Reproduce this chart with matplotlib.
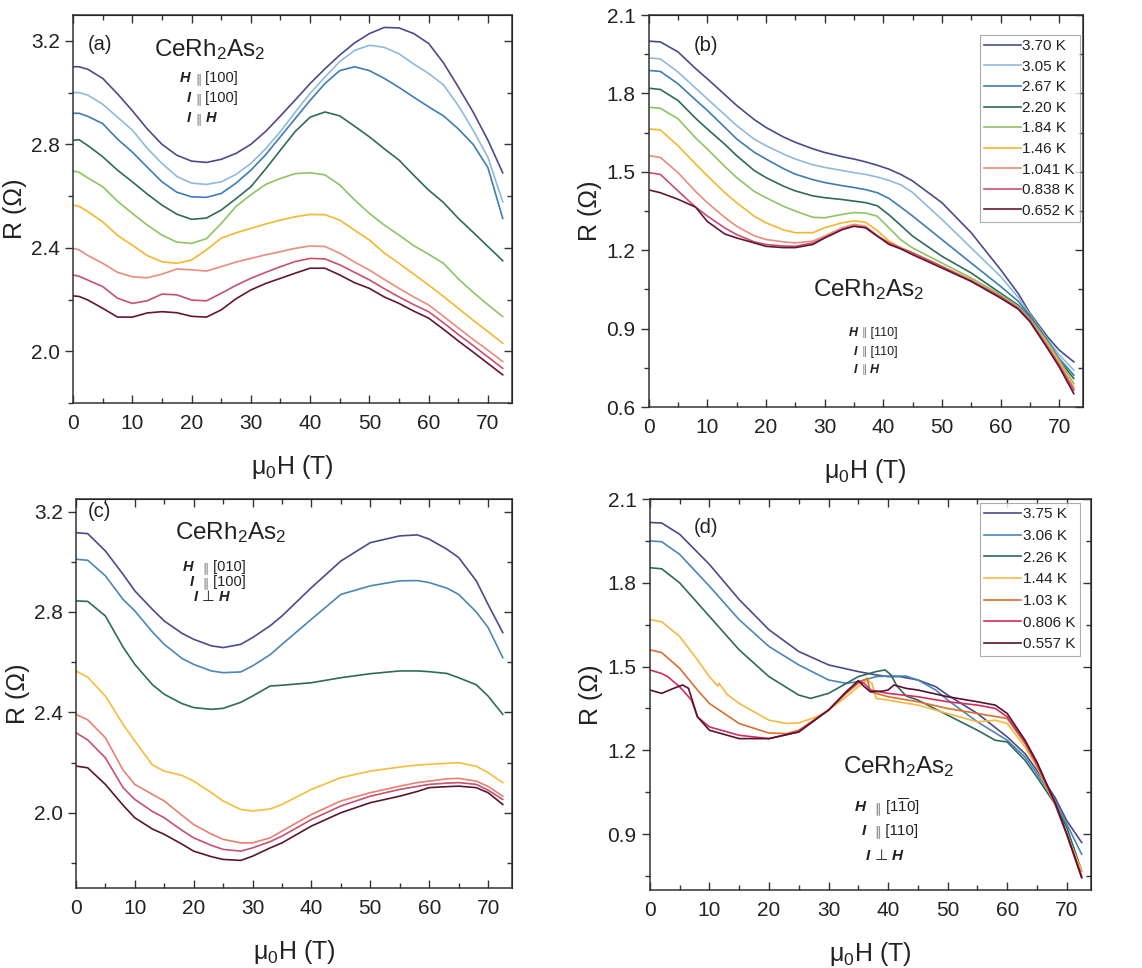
import matplotlib
matplotlib.use("Agg")
import matplotlib.pyplot as plt
from matplotlib.ticker import MultipleLocator
from matplotlib.offsetbox import TextArea, HPacker, AnchoredOffsetbox

plt.rcParams['font.family'] = ['Liberation Sans', 'DejaVu Sans']
plt.rcParams['mathtext.fontset'] = 'custom'
plt.rcParams['mathtext.rm'] = 'Liberation Sans'
plt.rcParams['mathtext.it'] = 'Liberation Sans:italic'
plt.rcParams['mathtext.bf'] = 'Liberation Sans:bold'

# ---------------- Panel (a): H || [100], I || [100] ----------------
a_labels = ['3.70 K', '3.05 K', '2.67 K', '2.20 K', '1.84 K', '1.46 K', '1.041 K', '0.838 K', '0.652 K']
a_H = [0, 1, 2.5, 5, 7.5, 10, 12.5, 15, 17.5, 20, 22.5, 25, 27.5, 30, 32.5, 35, 37.5, 40,
       42.5, 45, 47.5, 50, 52.5, 55, 57.5, 60, 62.5, 65, 67.5, 70, 72.5]
a_R_370 = [3.100, 3.100, 3.090, 3.055, 2.995, 2.930, 2.860, 2.800, 2.758, 2.735, 2.730,
           2.742, 2.765, 2.800, 2.850, 2.910, 2.972, 3.035, 3.092, 3.145, 3.192, 3.228,
           3.252, 3.250, 3.228, 3.190, 3.115, 3.022, 2.925, 2.816, 2.690]
a_R_305 = [3.000, 3.000, 2.990, 2.955, 2.905, 2.855, 2.785, 2.726, 2.676, 2.650, 2.645,
           2.655, 2.684, 2.726, 2.783, 2.850, 2.925, 2.997, 3.060, 3.120, 3.163, 3.183,
           3.175, 3.150, 3.110, 3.074, 3.030, 2.950, 2.855, 2.750, 2.578]
a_R_267 = [2.920, 2.920, 2.908, 2.880, 2.820, 2.770, 2.712, 2.655, 2.615, 2.597, 2.595,
           2.610, 2.650, 2.700, 2.760, 2.830, 2.900, 2.970, 3.035, 3.085, 3.100, 3.085,
           3.055, 3.020, 2.982, 2.945, 2.910, 2.860, 2.800, 2.710, 2.514]
a_R_220 = [2.815, 2.818, 2.795, 2.752, 2.700, 2.655, 2.608, 2.565, 2.530, 2.510, 2.515,
           2.546, 2.590, 2.636, 2.705, 2.778, 2.850, 2.905, 2.925, 2.910, 2.870, 2.829,
           2.783, 2.739, 2.680, 2.623, 2.575, 2.514, 2.460, 2.405, 2.350]
a_R_184 = [2.697, 2.692, 2.670, 2.636, 2.580, 2.533, 2.488, 2.449, 2.422, 2.417, 2.435,
           2.494, 2.560, 2.605, 2.645, 2.668, 2.687, 2.690, 2.682, 2.643, 2.585, 2.533,
           2.488, 2.449, 2.408, 2.375, 2.340, 2.280, 2.228, 2.180, 2.134]
a_R_146 = [2.565, 2.560, 2.540, 2.500, 2.448, 2.410, 2.370, 2.346, 2.340, 2.353, 2.392,
           2.437, 2.458, 2.475, 2.492, 2.507, 2.520, 2.529, 2.528, 2.507, 2.468, 2.430,
           2.380, 2.340, 2.298, 2.256, 2.212, 2.166, 2.120, 2.076, 2.031]
a_R_1041 = [2.398, 2.392, 2.370, 2.340, 2.305, 2.288, 2.284, 2.298, 2.318, 2.315, 2.310,
            2.327, 2.345, 2.359, 2.373, 2.385, 2.398, 2.407, 2.405, 2.379, 2.345, 2.314,
            2.278, 2.243, 2.210, 2.179, 2.135, 2.090, 2.046, 2.004, 1.960]
a_R_0838 = [2.295, 2.290, 2.275, 2.250, 2.205, 2.185, 2.195, 2.221, 2.218, 2.198, 2.195,
            2.224, 2.255, 2.282, 2.305, 2.327, 2.347, 2.359, 2.357, 2.334, 2.305, 2.276,
            2.242, 2.210, 2.180, 2.153, 2.110, 2.065, 2.022, 1.978, 1.934]
a_R_0652 = [2.214, 2.212, 2.198, 2.166, 2.132, 2.132, 2.148, 2.153, 2.149, 2.135, 2.132,
            2.160, 2.203, 2.237, 2.262, 2.282, 2.302, 2.321, 2.321, 2.295, 2.265, 2.243,
            2.210, 2.185, 2.155, 2.128, 2.085, 2.040, 1.997, 1.953, 1.909]

# ---------------- Panel (b): H || [110], I || [110] ----------------
b_labels = ['3.70 K', '3.05 K', '2.67 K', '2.20 K', '1.84 K', '1.46 K', '1.041 K', '0.838 K', '0.652 K']
b_H = [0, 2, 5, 8, 10, 13, 15, 18, 20, 23, 25, 28, 30, 33, 35, 37, 39, 41, 43, 45,
       50, 55, 60, 63, 65, 68, 70, 72.5]
b_R_370 = [2.000, 1.997, 1.959, 1.895, 1.856, 1.795, 1.754, 1.700, 1.670, 1.633, 1.613,
           1.588, 1.574, 1.558, 1.549, 1.538, 1.525, 1.510, 1.490, 1.465, 1.382, 1.267,
           1.126, 1.035, 0.960, 0.869, 0.818, 0.773]
b_R_305 = [1.936, 1.932, 1.882, 1.820, 1.779, 1.718, 1.677, 1.625, 1.600, 1.568, 1.549,
           1.527, 1.517, 1.505, 1.497, 1.490, 1.480, 1.467, 1.450, 1.421, 1.318, 1.209,
           1.100, 1.020, 0.955, 0.860, 0.800, 0.741]
b_R_267 = [1.888, 1.884, 1.837, 1.775, 1.735, 1.670, 1.626, 1.575, 1.549, 1.512, 1.491,
           1.470, 1.459, 1.447, 1.440, 1.432, 1.420, 1.398, 1.365, 1.331, 1.241, 1.151,
           1.062, 1.005, 0.950, 0.855, 0.786, 0.722]
b_R_220 = [1.820, 1.815, 1.773, 1.705, 1.664, 1.605, 1.562, 1.505, 1.478, 1.445, 1.427,
           1.408, 1.401, 1.394, 1.388, 1.382, 1.370, 1.335, 1.295, 1.254, 1.177, 1.113,
           1.036, 0.990, 0.945, 0.850, 0.779, 0.709]
b_R_184 = [1.747, 1.743, 1.703, 1.630, 1.587, 1.520, 1.478, 1.425, 1.401, 1.368, 1.350,
           1.326, 1.324, 1.337, 1.344, 1.342, 1.330, 1.285, 1.240, 1.209, 1.151, 1.094,
           1.030, 0.985, 0.940, 0.850, 0.779, 0.690]
b_R_146 = [1.664, 1.660, 1.600, 1.530, 1.485, 1.420, 1.382, 1.330, 1.305, 1.278, 1.267,
           1.267, 1.286, 1.305, 1.312, 1.307, 1.275, 1.235, 1.210, 1.190, 1.138, 1.087,
           1.023, 0.980, 0.933, 0.840, 0.773, 0.677]
b_R_1041 = [1.562, 1.555, 1.497, 1.425, 1.382, 1.325, 1.292, 1.255, 1.241, 1.232, 1.228,
            1.235, 1.254, 1.286, 1.299, 1.292, 1.256, 1.228, 1.208, 1.190, 1.138, 1.087,
            1.023, 0.980, 0.933, 0.835, 0.767, 0.671]
b_R_0838 = [1.497, 1.490, 1.427, 1.365, 1.331, 1.285, 1.260, 1.232, 1.222, 1.216, 1.215,
            1.228, 1.247, 1.279, 1.292, 1.286, 1.254, 1.228, 1.208, 1.190, 1.138, 1.081,
            1.023, 0.978, 0.933, 0.830, 0.760, 0.664]
b_R_0652 = [1.431, 1.420, 1.395, 1.365, 1.310, 1.262, 1.247, 1.228, 1.215, 1.210, 1.210,
            1.222, 1.247, 1.279, 1.292, 1.286, 1.254, 1.222, 1.205, 1.183, 1.132, 1.081,
            1.017, 0.975, 0.927, 0.825, 0.754, 0.651]

# ---------------- Panel (c): H || [010], I || [100] ----------------
c_H = [0, 2, 5, 8, 10, 13, 15, 18, 20, 23, 25, 28, 30, 33, 35, 40, 45, 50, 55, 58,
       60, 63, 65, 68, 70, 72.5]
c_R_1 = [3.116, 3.112, 3.043, 2.950, 2.884, 2.810, 2.764, 2.715, 2.691, 2.665, 2.658,
         2.671, 2.698, 2.745, 2.784, 2.897, 3.003, 3.076, 3.103, 3.107, 3.090, 3.050,
         3.017, 2.924, 2.830, 2.718]
c_R_2 = [3.010, 3.006, 2.944, 2.850, 2.804, 2.720, 2.671, 2.615, 2.591, 2.565, 2.558,
         2.561, 2.585, 2.630, 2.671, 2.771, 2.870, 2.904, 2.924, 2.925, 2.917, 2.895,
         2.870, 2.800, 2.738, 2.618]
c_R_3 = [2.844, 2.842, 2.784, 2.660, 2.591, 2.510, 2.472, 2.435, 2.419, 2.412, 2.416,
         2.440, 2.465, 2.505, 2.508, 2.518, 2.538, 2.554, 2.565, 2.565, 2.562, 2.555,
         2.538, 2.510, 2.465, 2.392]
c_R_4 = [2.565, 2.540, 2.465, 2.352, 2.286, 2.190, 2.166, 2.149, 2.126, 2.080, 2.047,
         2.013, 2.007, 2.015, 2.033, 2.093, 2.140, 2.166, 2.182, 2.190, 2.193, 2.197,
         2.199, 2.185, 2.160, 2.120]
c_R_5 = [2.392, 2.370, 2.299, 2.170, 2.113, 2.073, 2.047, 1.990, 1.953, 1.915, 1.894,
         1.880, 1.880, 1.900, 1.927, 1.993, 2.047, 2.080, 2.106, 2.120, 2.126, 2.135,
         2.137, 2.126, 2.105, 2.066]
c_R_6 = [2.319, 2.290, 2.219, 2.100, 2.053, 2.005, 1.980, 1.930, 1.900, 1.870, 1.854,
         1.847, 1.860, 1.885, 1.907, 1.973, 2.027, 2.066, 2.093, 2.105, 2.113, 2.118,
         2.120, 2.113, 2.090, 2.053]
c_R_7 = [2.186, 2.179, 2.113, 2.030, 1.980, 1.935, 1.914, 1.875, 1.847, 1.825, 1.814,
         1.810, 1.827, 1.860, 1.880, 1.947, 2.000, 2.040, 2.066, 2.085, 2.100, 2.104,
         2.106, 2.100, 2.080, 2.033]

# ---------------- Panel (d): H || [1-10], I || [110] ----------------
d_labels = ['3.75 K', '3.06 K', '2.26 K', '1.44 K', '1.03 K', '0.806 K', '0.557 K']
d_H_375 = [0, 2, 5, 10, 15, 20, 25, 30, 35, 38, 40, 42, 45, 48, 50, 55, 60, 63, 65, 68, 70, 72.5]
d_R_375 = [2.016, 2.014, 1.974, 1.866, 1.740, 1.632, 1.554, 1.506, 1.482, 1.470, 1.464,
           1.464, 1.452, 1.428, 1.398, 1.332, 1.248, 1.188, 1.128, 1.032, 0.948, 0.870]
d_H_306 = [0, 2, 5, 10, 15, 20, 25, 30, 33, 35, 38, 40, 43, 45, 48, 50, 55, 60, 63, 65, 68, 70, 72.5]
d_R_306 = [1.950, 1.947, 1.902, 1.788, 1.668, 1.572, 1.506, 1.452, 1.440, 1.446, 1.464,
           1.466, 1.466, 1.452, 1.416, 1.380, 1.302, 1.236, 1.176, 1.116, 1.020, 0.936, 0.828]
d_H_226 = [0, 2, 5, 10, 15, 20, 25, 27, 30, 33, 35, 38, 39.5, 40.5, 41.5, 43, 45, 50, 55,
           58, 60, 63, 65, 68, 70, 72.5]
d_R_226 = [1.854, 1.850, 1.800, 1.680, 1.560, 1.464, 1.398, 1.386, 1.404, 1.440, 1.464,
           1.482, 1.488, 1.470, 1.430, 1.395, 1.380, 1.326, 1.272, 1.236, 1.230, 1.164,
           1.104, 1.008, 0.924, 0.768]
d_H_144 = [0, 2, 5, 8, 10, 11.4, 11.6, 13, 15, 20, 23, 25, 28, 30, 33, 35, 36.5, 37.3, 38,
           40, 45, 50, 55, 58, 60, 63, 65, 68, 70, 72.5]
d_R_144 = [1.668, 1.660, 1.608, 1.524, 1.464, 1.430, 1.440, 1.400, 1.368, 1.308, 1.296,
           1.298, 1.320, 1.344, 1.392, 1.428, 1.452, 1.440, 1.386, 1.380, 1.362, 1.332,
           1.302, 1.308, 1.296, 1.212, 1.140, 1.008, 0.900, 0.768]
d_H_103 = [0, 2, 5, 8, 10, 15, 20, 23, 25, 30, 33, 35, 36.5, 37, 40, 45, 50, 55, 60, 63,
           65, 68, 70, 72.5]
d_R_103 = [1.560, 1.550, 1.494, 1.416, 1.368, 1.296, 1.262, 1.260, 1.272, 1.344, 1.404,
           1.440, 1.458, 1.410, 1.392, 1.374, 1.350, 1.332, 1.314, 1.224, 1.146, 1.008,
           0.900, 0.744]
d_H_0806 = [0, 2, 3, 5, 7, 8, 10, 15, 20, 25, 30, 33, 35, 36, 37, 40, 45, 50, 55, 58, 60,
            63, 65, 68, 70, 72.5]
d_R_0806 = [1.488, 1.475, 1.464, 1.428, 1.380, 1.320, 1.284, 1.254, 1.242, 1.266, 1.344,
            1.410, 1.446, 1.440, 1.416, 1.404, 1.392, 1.374, 1.362, 1.350, 1.320, 1.230,
            1.152, 1.014, 0.900, 0.750]
d_H_0557 = [0, 2, 4, 5.5, 6.5, 7.3, 8, 10, 15, 20, 25, 30, 33, 35, 36, 37, 39, 40, 41, 43,
            45, 50, 55, 58, 60, 63, 65, 68, 70, 72.5]
d_R_0557 = [1.416, 1.404, 1.422, 1.434, 1.422, 1.368, 1.320, 1.272, 1.242, 1.242, 1.266,
            1.344, 1.410, 1.450, 1.428, 1.410, 1.412, 1.416, 1.434, 1.422, 1.416, 1.392,
            1.374, 1.362, 1.332, 1.236, 1.158, 1.014, 0.900, 0.744]

# ---------------- colours ----------------
ab_colors = ['#4b4a8c', '#8fbadc', '#3d7db3', '#2e6b5c', '#8ec463', '#f5b72e',
             '#ec8c7a', '#c8506e', '#641534']
c_colors = ['#4b4a8c', '#4a86b8', '#2e6b5c', '#f5bd3a', '#e8806e', '#c85070', '#5a1530']
d_colors = ['#4b4a8c', '#4a86b8', '#2e6b5c', '#f5b942', '#d9702e', '#cf2f5a', '#5a1030']

LW = 1.2
SPINE = '#333333'
TXT = '#222222'

fig = plt.figure(figsize=(11.42, 9.68), dpi=100)


def make_ax(rect, ylim, ymaj, ymin):
    ax = fig.add_axes(rect)
    ax.set_xlim(0, 74)
    ax.set_ylim(*ylim)
    ax.xaxis.set_major_locator(MultipleLocator(10))
    ax.xaxis.set_minor_locator(MultipleLocator(5))
    ax.yaxis.set_major_locator(MultipleLocator(ymaj))
    ax.yaxis.set_minor_locator(MultipleLocator(ymin))
    for s in ax.spines.values():
        s.set_color(SPINE)
        s.set_linewidth(1.1)
    ax.tick_params(axis='x', which='both', direction='in', colors=SPINE,
                   labelcolor=TXT, labelsize=15, pad=8)
    ax.tick_params(axis='y', which='both', direction='out', colors=SPINE,
                   labelcolor=TXT, labelsize=15)
    ax.tick_params(which='major', length=6, width=1.0)
    ax.tick_params(which='minor', length=3.5, width=1.0)
    top = ax.secondary_xaxis('top')
    top.xaxis.set_major_locator(MultipleLocator(10))
    top.xaxis.set_minor_locator(MultipleLocator(5))
    top.tick_params(which='both', direction='in', labeltop=False, colors=SPINE, width=1.0)
    top.tick_params(which='major', length=6)
    top.tick_params(which='minor', length=3.5)
    right = ax.secondary_yaxis('right')
    right.yaxis.set_major_locator(MultipleLocator(ymaj))
    right.yaxis.set_minor_locator(MultipleLocator(ymin))
    right.tick_params(which='both', direction='in', labelright=False, colors=SPINE, width=1.0)
    right.tick_params(which='major', length=6)
    right.tick_params(which='minor', length=3.5)
    ax.set_xlabel('μ$_0$H (T)', fontsize=18, color=TXT, labelpad=14)
    ax.set_ylabel('R (Ω)', fontsize=18, color=TXT, labelpad=3)
    return ax


def annot(ax, x, ys, first, rests, size):
    """bold-italic symbol right-aligned at x, the rest left-aligned from x"""
    for y, f, rest in zip(ys, first, rests):
        ax.text(x, y, f, transform=ax.transAxes, ha='right', va='center',
                fontsize=size, fontweight='bold', fontstyle='italic', color=TXT)
        kids = []
        for t, style in rest:
            props = dict(fontsize=size, color=TXT)
            if style == 'bi':
                props.update(fontweight='bold', fontstyle='italic')
            elif style == 'sym':
                props.update(color='#777777', fontsize=size * 0.85)
            kids.append(TextArea(t, textprops=props))
        box = HPacker(children=kids, pad=0, sep=0, align='baseline')
        ab = AnchoredOffsetbox(loc='center left', child=box, pad=0, borderpad=0,
                               frameon=False, bbox_to_anchor=(x, y),
                               bbox_transform=ax.transAxes)
        ax.add_artist(ab)


def style_legend(leg):
    leg.get_frame().set_edgecolor('#999999')
    leg.get_frame().set_linewidth(0.8)
    for t in leg.get_texts():
        t.set_color(TXT)


PAR = ('∥', 'sym')

# ---- (a)
axa = make_ax([0.064, 0.5837, 0.384, 0.4008], (1.8, 3.3), 0.4, 0.2)
for R, col, lab in zip([a_R_370, a_R_305, a_R_267, a_R_220, a_R_184, a_R_146, a_R_1041,
                        a_R_0838, a_R_0652], ab_colors, a_labels):
    axa.plot(a_H, R, color=col, lw=LW, label=lab)
axa.text(0.034, 0.924, '(a)', transform=axa.transAxes, fontsize=14.5, va='center', color=TXT)
axa.text(0.312, 0.91, r'CeRh$_2$As$_2$', transform=axa.transAxes, fontsize=17.5,
         ha='center', va='center', color=TXT)
annot(axa, 0.278, [0.838, 0.786, 0.735], ['H ', 'I ', 'I '],
      [[PAR, (' [100]', 'n')], [PAR, (' [100]', 'n')], [PAR, (' ', 'n'), ('H', 'bi')]], 10.5)

# ---- (b)
axb = make_ax([0.568, 0.5795, 0.380, 0.405], (0.6, 2.1), 0.3, 0.15)
for R, col, lab in zip([b_R_370, b_R_305, b_R_267, b_R_220, b_R_184, b_R_146, b_R_1041,
                        b_R_0838, b_R_0652], ab_colors, b_labels):
    axb.plot(b_H, R, color=col, lw=LW, label=lab)
axb.text(0.104, 0.923, '(b)', transform=axb.transAxes, fontsize=14.5, va='center', color=TXT)
axb.text(0.507, 0.30, r'CeRh$_2$As$_2$', transform=axb.transAxes, fontsize=17.5,
         ha='center', va='center', color=TXT)
annot(axb, 0.49, [0.189, 0.14, 0.094], ['H ', 'I ', 'I '],
      [[PAR, (' [110]', 'n')], [PAR, (' [110]', 'n')], [PAR, (' ', 'n'), ('H', 'bi')]], 9)
legb = axb.legend(loc='upper right', bbox_to_anchor=(0.993, 0.95), fontsize=11,
                  handlelength=2.4, handletextpad=0.1, labelspacing=0.43,
                  borderpad=0.3, borderaxespad=0, frameon=True, fancybox=False)
style_legend(legb)

# ---- (c)
axc = make_ax([0.0665, 0.0826, 0.3815, 0.4019], (1.7, 3.25), 0.4, 0.2)
for R, col in zip([c_R_1, c_R_2, c_R_3, c_R_4, c_R_5, c_R_6, c_R_7], c_colors):
    axc.plot(c_H, R, color=col, lw=LW)
axc.text(0.028, 0.967, '(c)', transform=axc.transAxes, fontsize=14.5, va='center', color=TXT)
axc.text(0.356, 0.915, r'CeRh$_2$As$_2$', transform=axc.transAxes, fontsize=17.5,
         ha='center', va='center', color=TXT)
annot(axc, 0.29, [0.825, 0.787, 0.748], ['H  ', 'I  ', 'I '],
      [[PAR, (' [010]', 'n')], [PAR, (' [100]', 'n')], [('⊥ ', 'n'), ('H', 'bi')]], 10.5)

# ---- (d)
axd = make_ax([0.569, 0.0806, 0.386, 0.4039], (0.7, 2.1), 0.3, 0.15)
d_H_list = [d_H_375, d_H_306, d_H_226, d_H_144, d_H_103, d_H_0806, d_H_0557]
d_R_list = [d_R_375, d_R_306, d_R_226, d_R_144, d_R_103, d_R_0806, d_R_0557]
for H, R, col, lab in zip(d_H_list, d_R_list, d_colors, d_labels):
    axd.plot(H, R, color=col, lw=LW, label=lab)
axd.text(0.10, 0.928, '(d)', transform=axd.transAxes, fontsize=14.5, va='center', color=TXT)
axd.text(0.565, 0.315, r'CeRh$_2$As$_2$', transform=axd.transAxes, fontsize=17.5,
         ha='center', va='center', color=TXT)
annot(axd, 0.51, [0.212, 0.151, 0.087], ['H  ', 'I  ', 'I '],
      [[PAR, (r' [1$\overline{1}$0]', 'n')], [PAR, (' [110]', 'n')],
       [('⊥ ', 'n'), ('H', 'bi')]], 11)
legd = axd.legend(loc='upper right', bbox_to_anchor=(0.975, 0.99), fontsize=11,
                  handlelength=2.4, handletextpad=0.1, labelspacing=0.5,
                  borderpad=0.3, borderaxespad=0, frameon=True, fancybox=False)
style_legend(legd)

fig.savefig('out.png', dpi=100)
